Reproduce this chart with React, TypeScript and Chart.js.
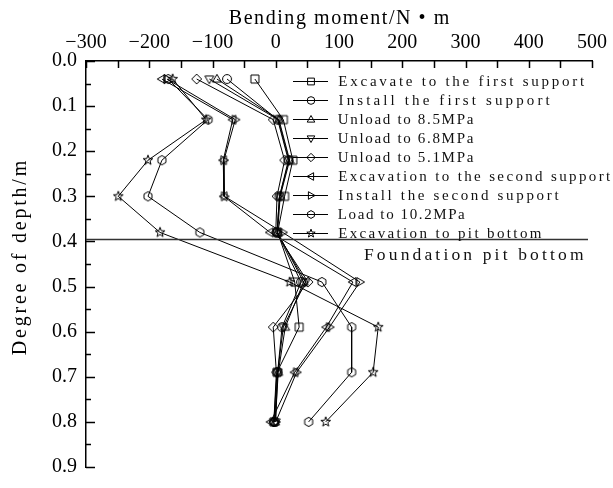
import React, { useEffect, useRef } from "react";
import { Chart, registerables } from "chart.js";

Chart.register(...registerables);

const SERIF = "'Liberation Serif', 'DejaVu Serif', serif";

// ---- data ----
const depths = [0.04, 0.13, 0.22, 0.30, 0.38, 0.49, 0.59, 0.69, 0.80];

const seriesLabels = [
  "Excavate to the first support",
  "Install the first support",
  "Unload to 8.5MPa",
  "Unload to 6.8MPa",
  "Unload to 5.1MPa",
  "Excavation to the second support",
  "Install the second support",
  "Load to 10.2MPa",
  "Excavation to pit bottom",
];

const markerTypes = ["square", "circle", "up", "down", "diamond", "left", "right", "hexagon", "star"];

const excavateFirstSupport = [-33, 12, 27, 14, 3, 30, 37, 2, -3];
const installFirstSupport = [-77, 3, 20, 6, 2, 40, 10, 3, -2];
const unload85 = [-93, 5, 22, 7, 3, 44, 15, 4, -1];
const unload68 = [-105, 4, 21, 6, 2, 47, 12, 3, 0];
const unload51 = [-125, -4, 14, 2, 0, 51, -4, 1, -3];
const excavateSecondSupport = [-180, -68, -83, -82, -9, 122, 80, 30, -8];
const installSecondSupport = [-172, -64, -82, -81, 11, 133, 85, 33, 0];
const load102 = [-170, -107, -180, -202, -120, 73, 120, 120, 52];
const excavatePitBottom = [-163, -110, -202, -249, -183, 22, 162, 154, 79];

const allSeries = [
  excavateFirstSupport,
  installFirstSupport,
  unload85,
  unload68,
  unload51,
  excavateSecondSupport,
  installSecondSupport,
  load102,
  excavatePitBottom,
];

const xMin = -300;
const xMax = 500;
const xMajorStep = 100;
const xMinorStep = 50;
const yMin = 0;
const yMax = 0.9;
const yMajorStep = 0.1;
const yMinorStep = 0.05;

const xTitle = "Bending moment/N \u2022 m";
const yTitle = "Degree of depth/m";
const pitBottomDepth = 0.395;
const pitBottomLabel = "Foundation pit bottom";

// ---- marker drawing ----
function traceMarker(ctx: CanvasRenderingContext2D, type: string, x: number, y: number, r: number) {
  ctx.beginPath();
  switch (type) {
    case "square": {
      const h = r * 0.85;
      ctx.rect(x - h, y - h, 2 * h, 2 * h);
      break;
    }
    case "circle":
      ctx.arc(x, y, r * 0.95, 0, Math.PI * 2);
      break;
    case "up":
      ctx.moveTo(x, y - r);
      ctx.lineTo(x + r * 0.95, y + r * 0.65);
      ctx.lineTo(x - r * 0.95, y + r * 0.65);
      ctx.closePath();
      break;
    case "down":
      ctx.moveTo(x, y + r);
      ctx.lineTo(x + r * 0.95, y - r * 0.65);
      ctx.lineTo(x - r * 0.95, y - r * 0.65);
      ctx.closePath();
      break;
    case "left":
      ctx.moveTo(x - r, y);
      ctx.lineTo(x + r * 0.65, y - r * 0.95);
      ctx.lineTo(x + r * 0.65, y + r * 0.95);
      ctx.closePath();
      break;
    case "right":
      ctx.moveTo(x + r, y);
      ctx.lineTo(x - r * 0.65, y - r * 0.95);
      ctx.lineTo(x - r * 0.65, y + r * 0.95);
      ctx.closePath();
      break;
    case "diamond": {
      const d = r * 1.05;
      ctx.moveTo(x, y - d);
      ctx.lineTo(x + d, y);
      ctx.lineTo(x, y + d);
      ctx.lineTo(x - d, y);
      ctx.closePath();
      break;
    }
    case "hexagon": {
      const h = r * 0.98;
      for (let k = 0; k < 6; k++) {
        const a = -Math.PI / 2 + (k * Math.PI) / 3;
        const px = x + h * Math.cos(a);
        const py = y + h * Math.sin(a);
        if (k === 0) ctx.moveTo(px, py);
        else ctx.lineTo(px, py);
      }
      ctx.closePath();
      break;
    }
    case "star": {
      const ro = r * 1.1;
      const ri = r * 0.45;
      for (let k = 0; k < 10; k++) {
        const a = -Math.PI / 2 + (k * Math.PI) / 5;
        const rr = k % 2 === 0 ? ro : ri;
        const px = x + rr * Math.cos(a);
        const py = y + rr * Math.sin(a);
        if (k === 0) ctx.moveTo(px, py);
        else ctx.lineTo(px, py);
      }
      ctx.closePath();
      break;
    }
  }
}

function makeMarkerCanvas(type: string, r: number) {
  const size = Math.ceil(r * 2 + 4);
  const c = document.createElement("canvas");
  c.width = size;
  c.height = size;
  const ctx = c.getContext("2d")!;
  traceMarker(ctx, type, size / 2, size / 2, r);
  ctx.strokeStyle = "#000";
  ctx.lineWidth = 1;
  ctx.stroke();
  return c;
}

function fmtX(v: number) {
  return v < 0 ? "\u2212" + Math.abs(v) : String(v);
}

// proportional text spread out to the width of fixed cells (half-width CJK look)
function drawSpacedText(
  ctx: any,
  text: string,
  x: number,
  y: number,
  cell: number,
  align: "left" | "center" | "right"
) {
  ctx.save();
  ctx.letterSpacing = "0px";
  const w0 = ctx.measureText(text).width;
  const total = text.length * cell;
  const sp = Math.max(0, (total - w0) / text.length);
  const start = align === "left" ? x : align === "center" ? x - total / 2 : x - total;
  ctx.letterSpacing = `${sp.toFixed(2)}px`;
  ctx.textAlign = "left";
  ctx.fillText(text, start + sp / 2, y);
  ctx.restore();
}

const overlayPlugin = {
  id: "overlayPlugin",
  afterDatasetsDraw(chart: any) {
    const { ctx, chartArea } = chart;
    const xs = chart.scales.x;
    const ys = chart.scales.y;
    const { left, right, top, bottom } = chartArea;
    ctx.save();
    ctx.strokeStyle = "#000";
    ctx.lineWidth = 1.5;
    ctx.beginPath();
    const nx = Math.round((xMax - xMin) / xMinorStep);
    for (let k = 0; k <= nx; k++) {
      const px = Math.round(xs.getPixelForValue(xMin + k * xMinorStep)) + 0.5;
      ctx.moveTo(px, top);
      ctx.lineTo(px, top + 7);
    }
    const ny = Math.round((yMax - yMin) / yMinorStep);
    for (let k = 0; k <= ny; k++) {
      const py = Math.round(ys.getPixelForValue(yMin + k * yMinorStep)) + 0.5;
      const len = k % 2 === 0 ? 9 : 5;
      ctx.moveTo(left, py);
      ctx.lineTo(left + len, py);
    }
    ctx.stroke();

    // axis titles
    ctx.fillStyle = "#000";
    ctx.textBaseline = "middle";
    ctx.font = `20px ${SERIF}`;
    drawSpacedText(ctx, xTitle, (left + right) / 2, 19, 11.1, "center");
    ctx.save();
    ctx.translate(21, (top + bottom) / 2 - 6);
    ctx.rotate(-Math.PI / 2);
    drawSpacedText(ctx, yTitle, 0, 0, 11.6, "center");
    ctx.restore();

    // foundation pit bottom line
    const pyb = Math.round(ys.getPixelForValue(pitBottomDepth)) + 0.5;
    ctx.strokeStyle = "#333";
    ctx.lineWidth = 1.3;
    ctx.beginPath();
    ctx.moveTo(left, pyb);
    ctx.lineTo(right - 4, pyb);
    ctx.stroke();
    ctx.fillStyle = "#111";
    ctx.font = `17.5px ${SERIF}`;
    ctx.textBaseline = "middle";
    drawSpacedText(ctx, pitBottomLabel, right - 7, pyb + 16, 10.6, "right");

    // legend
    const lx0 = 293;
    const lx1 = 328;
    const mx = 311;
    const tx = 337;
    const ly0 = 80.5;
    const dy = 19.1;
    ctx.font = `15px ${SERIF}`;
    ctx.textBaseline = "middle";
    chart.data.datasets.forEach((ds: any, i: number) => {
      const yy = Math.round(ly0 + i * dy) + 0.5;
      ctx.strokeStyle = "#000";
      ctx.lineWidth = 1;
      ctx.beginPath();
      ctx.moveTo(lx0, yy);
      ctx.lineTo(lx1, yy);
      ctx.stroke();
      traceMarker(ctx, markerTypes[i], mx, yy, 4);
      ctx.stroke();
      ctx.fillStyle = "#111";
      drawSpacedText(ctx, ds.label, tx, yy + 1, 8.57, "left");
    });
    ctx.restore();
  },
};

export default function App() {
  const canvasRef = useRef<HTMLCanvasElement | null>(null);

  useEffect(() => {
    const canvas = canvasRef.current;
    if (!canvas) return;
    const datasets = allSeries.map((vals, i) => ({
      label: seriesLabels[i],
      data: depths.map((d, j) => ({ x: vals[j], y: d })),
      showLine: true,
      borderColor: "#000",
      borderWidth: 1,
      backgroundColor: "rgba(0,0,0,0)",
      pointStyle: makeMarkerCanvas(markerTypes[i], 4.7) as any,
      pointRadius: 5,
      pointBorderColor: "#000",
      tension: 0,
    }));

    const chart = new Chart(canvas, {
      type: "scatter",
      data: { datasets },
      options: {
        animation: false,
        responsive: true,
        maintainAspectRatio: false,
        layout: { padding: { left: 0, top: 0, right: 21, bottom: 11 } },
        plugins: {
          legend: { display: false },
          tooltip: { enabled: false },
        },
        scales: {
          x: {
            type: "linear",
            position: "top",
            min: xMin,
            max: xMax,
            grid: { display: false, drawTicks: false },
            border: { display: true, color: "#000", width: 1.5 },
            ticks: {
              stepSize: xMajorStep,
              autoSkip: false,
              maxRotation: 0,
              color: "#000",
              padding: 6,
              font: { family: SERIF, size: 20 },
              callback: (v: any) => fmtX(Number(v)),
            },
            title: { display: false, text: xTitle },
            afterFit: (s: any) => {
              s.height = 61;
            },
          },
          y: {
            type: "linear",
            reverse: true,
            min: yMin,
            max: yMax,
            grid: { display: false, drawTicks: false },
            border: { display: true, color: "#000", width: 1.5 },
            ticks: {
              stepSize: yMajorStep,
              autoSkip: false,
              color: "#000",
              padding: 9,
              font: { family: SERIF, size: 20 },
              callback: (v: any) => Number(v).toFixed(1),
            },
            title: { display: false, text: yTitle },
            afterFit: (s: any) => {
              s.width = 86;
            },
          },
        },
      },
      plugins: [overlayPlugin],
    });
    return () => chart.destroy();
  }, []);

  return (
    <div style={{ position: "absolute", left: 0, top: 0, width: 613, height: 488, background: "#fff" }}>
      <canvas ref={canvasRef} />
    </div>
  );
}
